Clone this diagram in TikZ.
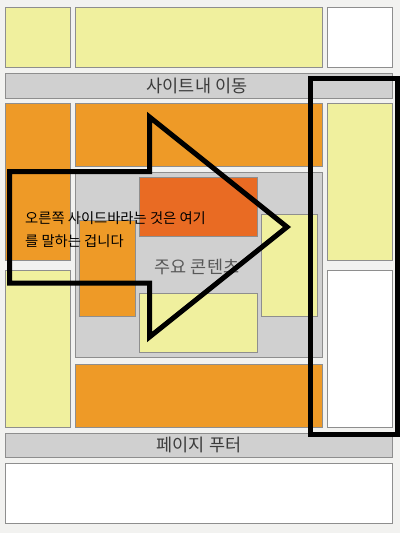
\documentclass[tikz,border=0pt]{standalone}
\usepackage{fontspec}
\setmainfont{Noto Sans CJK KR}
\definecolor{bgc}{HTML}{F2F2F0}
\definecolor{yel}{HTML}{F0F09E}
\definecolor{org}{HTML}{EE9A27}
\definecolor{dorg}{HTML}{E96B23}
\definecolor{gry}{HTML}{D0D0D0}
\definecolor{edge}{HTML}{8E8E8E}
\definecolor{lbl}{HTML}{3C3C3C}
\tikzset{
  box/.style={draw=edge, line width=0.9pt, rectangle, inner sep=0pt, outer sep=0pt, anchor=north west},
  lab/.style={text=lbl, font=\fontsize{17.5}{20}\selectfont, inner sep=0pt},
  note/.style={text=black, font=\fontsize{14.3}{16}\selectfont, inner sep=0pt, anchor=west},
  heavy/.style={draw=black, line width=5pt, line join=miter}
}
\begin{document}
\begin{tikzpicture}[x=1pt,y=-1pt]
\useasboundingbox (0,0) rectangle (400,533);
\fill[bgc] (0,0) rectangle (400,533);
% top row
\node[box, fill=yel, minimum width=65pt, minimum height=60pt] (tl) at (5,7) {};
\node[box, fill=yel, minimum width=247pt, minimum height=60pt] (tm) at (75,7) {};
\node[box, fill=white, minimum width=65pt, minimum height=60pt] (tr) at (327,7) {};
% nav
\node[box, fill=gry, minimum width=387pt, minimum height=25pt] (nav) at (5,73) {};
\node[lab] (navt) at (197,86) {사이트내 이동};
% left column
\node[box, fill=org, minimum width=65pt, minimum height=157pt] (lo) at (5,103) {};
\node[box, fill=yel, minimum width=65pt, minimum height=157pt] (ly) at (5,270) {};
% middle column
\node[box, fill=org, minimum width=247pt, minimum height=63pt] (mo) at (75,103) {};
\node[box, fill=gry, minimum width=247pt, minimum height=185pt] (mc) at (75,172) {};
\node[box, fill=dorg, minimum width=118pt, minimum height=59pt] (md) at (139,177) {};
\node[box, fill=org, minimum width=56pt, minimum height=96pt] (mio) at (79,220) {};
\node[box, fill=yel, minimum width=56pt, minimum height=102pt] (miy) at (261,214) {};
\node[box, fill=yel, minimum width=118pt, minimum height=59pt] (mby) at (139,293) {};
\node[lab, text=lbl!85] (mct) at (197,267) {주요 콘텐츠};
\node[box, fill=org, minimum width=247pt, minimum height=63pt] (mbo) at (75,364) {};
% right column
\node[box, fill=yel, minimum width=65pt, minimum height=157pt] (ry) at (327,103) {};
\node[box, fill=white, minimum width=65pt, minimum height=157pt] (rw) at (327,270) {};
% footer
\node[box, fill=gry, minimum width=387pt, minimum height=24pt] (foot) at (5,433) {};
\node[lab] (foott) at (199,445) {페이지 푸터};
\node[box, fill=white, minimum width=387pt, minimum height=60pt] (bw) at (5,463) {};
% arrow
\coordinate (a1) at (9.5,171.5);
\coordinate (a2) at (149.5,171.5);
\coordinate (a3) at (149.5,117);
\coordinate (a4) at (287,227);
\coordinate (a5) at (149.5,337);
\coordinate (a6) at (149.5,283);
\coordinate (a7) at (9.5,283);
\draw[heavy] (a1) -- (a2) -- (a3) -- (a4) -- (a5) -- (a6) -- (a7) -- cycle;
% sidebar frame
\draw[heavy] (310.5,78.5) rectangle (397.5,434);
% annotation
\node[note] (n1) at (25,218) {오른쪽 사이드바라는 것은 여기};
\node[note] (n2) at (25,241) {를 말하는 겁니다};
\end{tikzpicture}
\end{document}
